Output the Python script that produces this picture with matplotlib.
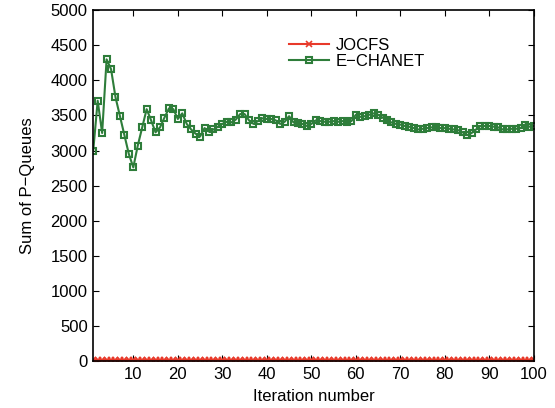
import numpy as np
import matplotlib
matplotlib.use("Agg")
import matplotlib.pyplot as plt

plt.rcParams["font.family"] = ["Liberation Sans", "DejaVu Sans"]

iterations = np.arange(1, 101)

echanet = [
    3000, 3710, 3250, 4300, 4160, 3760, 3490, 3220, 2950, 2760,
    3070, 3330, 3590, 3430, 3260, 3330, 3470, 3600, 3590, 3450,
    3530, 3380, 3300, 3240, 3200, 3320, 3270, 3300, 3340, 3380,
    3410, 3400, 3440, 3520, 3520, 3430, 3380, 3420, 3460, 3450,
    3450, 3430, 3380, 3410, 3490, 3400, 3390, 3380, 3350, 3380,
    3430, 3420, 3410, 3410, 3420, 3410, 3420, 3400, 3420, 3510,
    3480, 3490, 3510, 3530, 3510, 3470, 3430, 3400, 3380, 3370,
    3350, 3340, 3320, 3300, 3310, 3320, 3330, 3330, 3320, 3320,
    3310, 3300, 3290, 3260, 3220, 3250, 3300, 3350, 3350, 3350,
    3340, 3330, 3300, 3300, 3310, 3310, 3320, 3370, 3340, 3350,
]
jocfs = [15] * 100

fig = plt.figure(figsize=(5.55, 4.08), dpi=100)
ax = fig.add_axes([0.168, 0.115, 0.794, 0.86])

ax.plot(iterations, jocfs, color="#e8392a", marker="x", markersize=4,
        markeredgewidth=1.2, linewidth=1.5, label="JOCFS")
ax.plot(iterations, echanet, color="#2e7d3a", marker="s", markersize=5,
        markerfacecolor="none", markeredgewidth=1.5, linewidth=1.5,
        label="E\u2212CHANET")

ax.set_xlim(1, 100)
ax.set_ylim(0, 5000)
ax.set_xticks(np.arange(10, 101, 10))
ax.set_yticks(np.arange(0, 5001, 500))
ax.tick_params(direction="in", top=True, right=True, labelsize=12, length=4,
               pad=4)
for s in ax.spines.values():
    s.set_linewidth(1.2)

ax.set_xlabel("Iteration number", fontsize=12, labelpad=5)
ax.set_ylabel("Sum of P\u2212Queues", fontsize=12, labelpad=11)

ax.legend(loc="upper left", bbox_to_anchor=(0.43, 0.94), frameon=False,
          fontsize=12, handlelength=2.4, handletextpad=0.4,
          labelspacing=0.05, borderaxespad=0)

fig.savefig("out.png", dpi=100)
